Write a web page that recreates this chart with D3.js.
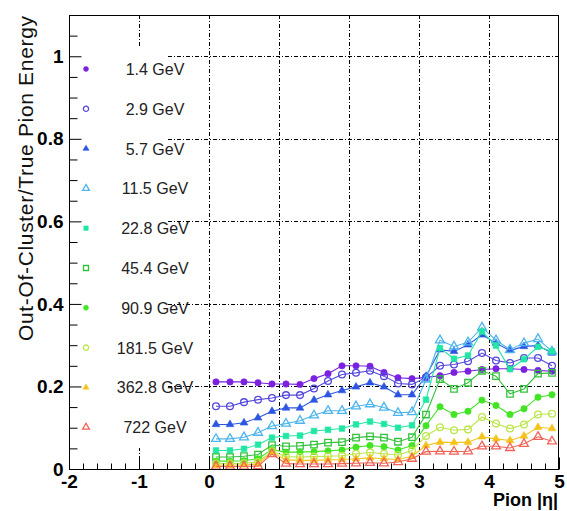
<!DOCTYPE html>
<html>
<head>
<meta charset="utf-8">
<script src="https://cdn.jsdelivr.net/npm/d3@7"></script>
<style>
  html, body { margin: 0; padding: 0; background: #fff; }
  svg { display: block; }
</style>
</head>
<body>
<svg id="chart" width="567" height="511"></svg>
<script>
// Pion |eta| bin centres
const eta = [0.1, 0.3, 0.5, 0.7, 0.9, 1.1, 1.3, 1.5, 1.7, 1.9, 2.1, 2.3, 2.5,
             2.7, 2.9, 3.1, 3.3, 3.5, 3.7, 3.9, 4.1, 4.3, 4.5, 4.7, 4.9];

// Out-of-cluster / true pion energy, one array per beam energy
const e1p4   = [.211, .211, .211, .209, .206, .206, .205, .219, .231, .250, .250, .249, .234,
                .221, .219, .222, .226, .234, .237, .241, .243, .243, .241, .239, .237];
const e2p9   = [.152, .152, .162, .168, .172, .179, .179, .195, .213, .229, .233, .238, .225,
                .207, .205, .222, .250, .253, .261, .281, .263, .257, .269, .269, .250];
const e5p7   = [.108, .108, .112, .124, .140, .148, .148, .167, .180, .190, .199, .209, .199,
                .180, .180, .225, .289, .285, .301, .325, .305, .287, .297, .299, .281];
const e11p5  = [.073, .073, .077, .088, .104, .110, .117, .130, .141, .141, .152, .157, .149,
                .136, .138, .217, .312, .297, .307, .343, .312, .289, .305, .315, .285];
const e22p8  = [.045, .045, .049, .059, .076, .080, .081, .092, .095, .098, .108, .115, .109,
                .100, .106, .168, .293, .267, .275, .333, .299, .242, .266, .296, .285];
const e45p4  = [.029, .029, .031, .035, .058, .055, .056, .059, .064, .065, .076, .079, .076,
                .066, .077, .132, .218, .194, .209, .238, .225, .182, .194, .231, .233];
const e90p9  = [.019, .019, .020, .025, .047, .041, .041, .042, .044, .046, .053, .057, .054,
                .046, .057, .105, .151, .132, .140, .167, .154, .132, .146, .174, .180];
const e181p5 = [.013, .013, .014, .017, .043, .030, .029, .030, .031, .032, .037, .040, .037,
                .034, .045, .080, .101, .094, .096, .126, .110, .098, .108, .132, .134];
const e362p8 = [.009, .009, .010, .012, .040, .022, .021, .021, .022, .023, .025, .027, .025,
                .023, .031, .057, .065, .064, .065, .078, .073, .069, .080, .101, .098];
const e722   = [.006, .006, .006, .007, .036, .013, .012, .012, .012, .013, .014, .015, .014,
                .017, .025, .042, .043, .042, .043, .055, .055, .051, .061, .078, .067];

const labels  = ["1.4 GeV", "2.9 GeV", "5.7 GeV", "11.5 GeV", "22.8 GeV",
                 "45.4 GeV", "90.9 GeV", "181.5 GeV", "362.8 GeV", "722 GeV"];
const values  = [e1p4, e2p9, e5p7, e11p5, e22p8, e45p4, e90p9, e181p5, e362p8, e722];
const colors  = ["#7b22e0", "#5448dc", "#2c56e2", "#4cb4ee", "#22e6a4",
                 "#34c23e", "#42e424", "#bce64c", "#f4c41c", "#f06458"];
const shapes  = ["circle", "circle", "triangle", "triangle", "square",
                 "square", "circle", "circle", "triangle", "triangle"];
const filled  = [true, false, true, false, true, false, true, false, true, false];

const xMajor = [-2, -1, 0, 1, 2, 3, 4, 5];
const yMajor = [0, 0.2, 0.4, 0.6, 0.8, 1];

const svg = d3.select("#chart");
const plotL = 69, plotR = 559, plotT = 15, plotB = 469;

const x = d3.scaleLinear().domain([-2, 5]).range([plotL, plotR]);
const y = d3.scaleLinear().domain([0, 1.1]).range([plotB, plotT]);

const gridDash = "4,2,1,2";

// grid
const grid = svg.append("g").attr("stroke", "#000").attr("stroke-width", 1)
  .attr("stroke-dasharray", gridDash).attr("fill", "none");
xMajor.filter(v => v > -2 && v < 5).forEach(v => {
  grid.append("line").attr("x1", Math.round(x(v)) + 0.5).attr("x2", Math.round(x(v)) + 0.5)
    .attr("y1", plotT).attr("y2", plotB);
});
yMajor.filter(v => v > 0).forEach(v => {
  grid.append("line").attr("y1", Math.round(y(v)) + 0.5).attr("y2", Math.round(y(v)) + 0.5)
    .attr("x1", plotL).attr("x2", plotR);
});

// legend box
const legendTop = 47, legendBottom = 448, legendRight = 167;
svg.append("rect").attr("x", plotL + 1).attr("y", legendTop)
  .attr("width", legendRight - plotL - 1).attr("height", legendBottom - legendTop)
  .attr("fill", "#fff");

function symbolPath(shape, filledMark, scale) {
  const type = shape === "circle" ? d3.symbolCircle
             : shape === "square" ? d3.symbolSquare : d3.symbolTriangle;
  let size;
  if (shape === "circle") size = filledMark ? 32 : 36;
  else if (shape === "square") size = filledMark ? 32 : 42;
  else size = filledMark ? 26 : 34;
  return d3.symbol().type(type).size(size * scale)();
}

function drawMarker(g, i, scale) {
  g.append("path")
    .attr("d", symbolPath(shapes[i], filled[i], scale))
    .attr("fill", filled[i] ? colors[i] : "none")
    .attr("stroke", colors[i])
    .attr("stroke-width", filled[i] ? 0.6 : 1.3);
}

// legend entries
const legend = svg.append("g");
labels.forEach((lab, i) => {
  const ly = 69 + i * 39.8;
  const g = legend.append("g").attr("transform", `translate(86,${ly})`);
  drawMarker(g, i, 0.6);
  legend.append("text")
    .attr("x", 155).attr("y", ly + 6)
    .attr("text-anchor", "middle")
    .attr("font-family", "Liberation Sans, Arial, sans-serif")
    .attr("font-size", 16)
    .attr("fill", "#222")
    .text(lab);
});

// series
const line = d3.line().x((d, j) => x(eta[j])).y(d => y(d));
values.forEach((vals, i) => {
  const g = svg.append("g");
  g.append("path").datum(vals).attr("d", line)
    .attr("fill", "none").attr("stroke", colors[i]).attr("stroke-width", 1.1);
  vals.forEach((v, j) => {
    const m = g.append("g").attr("transform", `translate(${x(eta[j])},${y(v)})`);
    drawMarker(m, i, 1);
  });
});

// frame
svg.append("rect").attr("x", plotL + 0.5).attr("y", plotT + 0.5)
  .attr("width", plotR - plotL - 1).attr("height", plotB - plotT)
  .attr("fill", "none").attr("stroke", "#000").attr("stroke-width", 1);

const tickFont = "Liberation Sans, Arial, sans-serif";

// y axis: major + minor ticks pointing inward
const yAxis = svg.append("g").attr("transform", `translate(${plotL + 0.5},0)`)
  .call(d3.axisLeft(y).tickValues(yMajor).tickSize(-12).tickPadding(6)
        .tickFormat(d => String(d)));
yAxis.select(".domain").remove();
yAxis.selectAll("text").attr("font-family", tickFont).attr("font-size", 19)
  .attr("font-weight", "bold").attr("fill", "#000");
const yMinor = d3.range(0, 1.1001, 0.05).filter(v => !yMajor.some(m => Math.abs(m - v) < 1e-6));
const yAxisMinor = svg.append("g").attr("transform", `translate(${plotL + 0.5},0)`)
  .call(d3.axisLeft(y).tickValues(yMinor).tickSize(-8).tickFormat(""));
yAxisMinor.select(".domain").remove();

// x axis: major + minor ticks pointing inward
const xAxis = svg.append("g").attr("transform", `translate(0,${plotB + 0.5})`)
  .call(d3.axisBottom(x).tickValues(xMajor).tickSize(-12).tickPadding(4)
        .tickFormat(d => String(d)));
xAxis.select(".domain").remove();
xAxis.selectAll("text").attr("font-family", tickFont).attr("font-size", 19)
  .attr("font-weight", "bold").attr("fill", "#000").attr("dy", "0.71em")
  .attr("y", 5);
const xMinor = d3.range(-2, 5.0001, 0.2).filter(v => !xMajor.some(m => Math.abs(m - v) < 1e-6));
const xAxisMinor = svg.append("g").attr("transform", `translate(0,${plotB + 0.5})`)
  .call(d3.axisBottom(x).tickValues(xMinor).tickSize(-6).tickFormat(""));
xAxisMinor.select(".domain").remove();

// axis titles
svg.append("text")
  .attr("transform", `translate(33,${(15 + 342) / 2}) rotate(-90)`)
  .attr("text-anchor", "middle")
  .attr("font-family", tickFont)
  .attr("font-size", 21)
  .attr("textLength", 325)
  .attr("lengthAdjust", "spacing")
  .attr("fill", "#111")
  .text("Out-Of-Cluster/True Pion Energy");

svg.append("text")
  .attr("x", plotR - 1).attr("y", 506)
  .attr("text-anchor", "end")
  .attr("font-family", tickFont)
  .attr("font-size", 18)
  .attr("font-weight", "bold")
  .attr("fill", "#000")
  .text("Pion |η|");
</script>
</body>
</html>
